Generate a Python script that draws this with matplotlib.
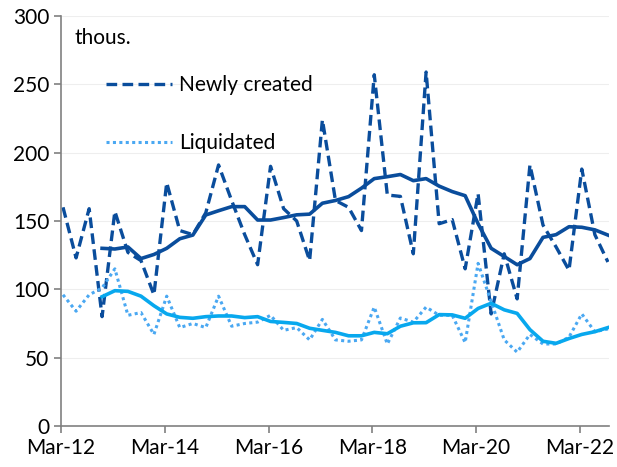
import numpy as np
import pandas as pd
import matplotlib
matplotlib.use('Agg')
import matplotlib.pyplot as plt

# quarterly series, Mar-12 .. Sep-22 (thousands)
newly_created = [160, 123, 159, 80, 157, 127, 121, 96, 178, 143, 140, 156,
                 191, 165, 140, 118, 190, 159, 150, 121, 224, 165, 160, 143,
                 257, 169, 168, 126, 259, 148, 151, 115, 170, 82, 126, 93,
                 191, 147, 131, 114, 188, 140, 120]
newly_created_avg = [np.nan, np.nan, np.nan, 130, 129.5, 131, 122.5, 125.5, 130, 137,
                     139.7, 154.4, 157.5, 160.5, 160.5, 150.7, 150.7, 152.5, 154.5, 155,
                     163, 165, 167.8, 174, 181, 182.4, 184, 179.5, 181, 175.5,
                     171.5, 168.5, 148, 130, 124, 118, 122.5, 138, 140, 145.8,
                     145.4, 143.5, 139.7]
liquidated = [96, 84, 96, 101, 115, 81, 83, 67, 95, 72, 75, 72,
              95, 73, 75, 76, 81, 70, 72, 63, 78, 63, 62, 63,
              87, 60, 79, 76, 87, 81, 81, 61, 119, 91, 63, 54,
              67, 60, 60, 65, 82, 69, 71]
liquidated_avg = [np.nan, np.nan, np.nan, 94.6, 99, 98.5, 95, 88, 82, 79.5,
                  78.8, 80, 80.5, 80.5, 79.3, 80, 76.5, 75.8, 75, 71.5,
                  70, 68.5, 66, 66, 68.5, 67.5, 73, 75.5, 75.6, 81.5,
                  81.3, 78.8, 86, 89.8, 85, 82.4, 70.5, 62, 60.5, 64,
                  67, 69, 72]
tick_labels = ['Mar-12', 'Mar-14', 'Mar-16', 'Mar-18', 'Mar-20', 'Mar-22']

dates = pd.date_range('2012-03-01', periods=len(newly_created), freq='3MS') + pd.Timedelta(days=14)
dates = dates.to_pydatetime()
tick_dates = pd.to_datetime(['2012-03-01', '2014-03-01', '2016-03-01',
                             '2018-03-01', '2020-03-01', '2022-03-01']).to_pydatetime()

dark = '#0a4d9c'
light = '#08a8ee'
dotted = '#4aa8f2'

plt.rcParams['font.family'] = ['Lato', 'DejaVu Sans']
plt.rcParams['font.size'] = 15

fig = plt.figure(figsize=(6.17, 4.67), dpi=100)
ax = fig.add_axes([0.0989, 0.0878, 0.888, 0.878])

ax.plot(dates, newly_created, color=dark, lw=2.4, linestyle=(0, (3.2, 1.6)), label='Newly created')
ax.plot(dates, liquidated, color=dotted, lw=2.2, linestyle=(0, (1, 1.1)), label='Liquidated')
ax.plot(dates, newly_created_avg, color=dark, lw=2.6)
ax.plot(dates, liquidated_avg, color=light, lw=2.6)

ax.set_ylim(0, 300)
ax.set_yticks(range(0, 301, 50))
ax.set_xlim(pd.Timestamp('2012-03-01').to_pydatetime(), pd.Timestamp('2022-09-22').to_pydatetime())
ax.set_xticks(tick_dates)
ax.set_xticklabels(tick_labels)

ax.grid(axis='y', color='#eeeeee', lw=0.8)
ax.set_axisbelow(True)
for s in ['top', 'right']:
    ax.spines[s].set_visible(False)
for s in ['left', 'bottom']:
    ax.spines[s].set_color('#808080')
    ax.spines[s].set_linewidth(1.2)
ax.tick_params(axis='both', colors='#808080', length=5, width=1.2, labelcolor='black')
ax.tick_params(axis='x', pad=4)

ax.text(0.024, 0.946, 'thous.', transform=ax.transAxes, va='center', ha='left')

leg = ax.legend(loc='upper left', bbox_to_anchor=(0.047, 0.902), frameon=False,
                handlelength=3.2, handletextpad=0.35, labelspacing=1.85)

fig.savefig('out.png', dpi=100)
